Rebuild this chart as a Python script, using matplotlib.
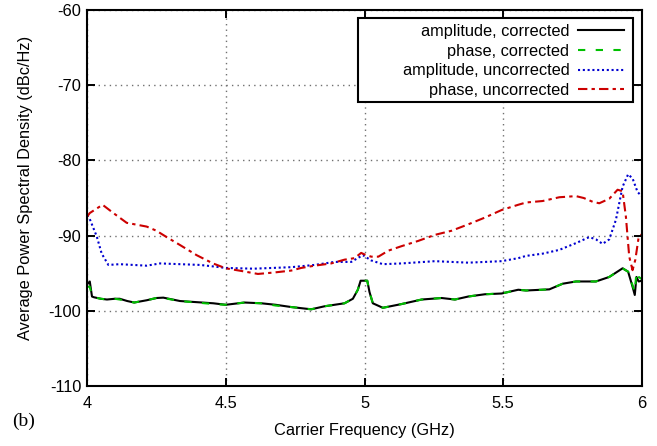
import matplotlib
matplotlib.use('Agg')
import matplotlib.pyplot as plt
from matplotlib.patches import Rectangle

plt.rcParams['font.family'] = ['Liberation Sans', 'DejaVu Sans']
plt.rcParams['axes.unicode_minus'] = False

# amplitude, corrected (black)
f_amp_corr = [4.0, 4.01, 4.018, 4.025, 4.05, 4.072, 4.1, 4.118, 4.145, 4.17, 4.215, 4.25, 4.275,
              4.335, 4.395, 4.455, 4.50, 4.568, 4.628, 4.68, 4.736, 4.808, 4.856, 4.928, 4.958,
              4.976, 4.986, 5.01, 5.018, 5.03, 5.066, 5.134, 5.206, 5.278, 5.326, 5.374, 5.434,
              5.494, 5.554, 5.582, 5.666, 5.714, 5.762, 5.834, 5.882, 5.93, 5.95, 5.966, 5.974,
              5.98, 5.988, 6.0]
amp_corr = [-96.5, -96.1, -98.1, -98.2, -98.4, -98.5, -98.4, -98.4, -98.7, -98.9, -98.6, -98.3,
            -98.25, -98.7, -98.85, -99.0, -99.2, -98.9, -99.0, -99.2, -99.5, -99.8, -99.4, -99.0,
            -98.4, -97.2, -96.0, -96.0, -97.5, -99.0, -99.6, -99.1, -98.5, -98.3, -98.5, -98.1,
            -97.8, -97.7, -97.2, -97.3, -97.15, -96.4, -96.1, -96.1, -95.5, -94.35, -94.8, -96.8,
            -97.9, -95.5, -96.1, -96.0]

# phase, corrected (green)
f_ph_corr = [4.0, 4.01, 4.018, 4.025, 4.05, 4.072, 4.1, 4.118, 4.145, 4.17, 4.215, 4.25, 4.275,
             4.335, 4.395, 4.455, 4.50, 4.568, 4.628, 4.68, 4.736, 4.808, 4.856, 4.928, 4.958,
             4.976, 4.986, 5.01, 5.018, 5.03, 5.066, 5.134, 5.206, 5.278, 5.326, 5.374, 5.434,
             5.494, 5.554, 5.582, 5.666, 5.714, 5.762, 5.834, 5.882, 5.93, 5.95, 5.966, 5.974,
             5.98, 5.988, 6.0]
ph_corr = [-96.8, -96.8, -98.0, -98.2, -98.4, -98.5, -98.4, -98.5, -98.7, -98.9, -98.6, -98.3,
           -98.3, -98.7, -98.9, -99.1, -99.2, -98.9, -99.0, -99.3, -99.5, -99.8, -99.4, -99.0,
           -98.4, -97.2, -96.0, -96.0, -97.5, -99.0, -99.6, -99.1, -98.5, -98.3, -98.5, -98.1,
           -97.8, -97.7, -97.2, -97.3, -97.15, -96.4, -96.1, -96.1, -95.5, -94.35, -94.8, -96.6,
           -97.5, -94.8, -95.5, -95.8]

# amplitude, uncorrected (blue)
f_amp_unc = [4.0, 4.01, 4.035, 4.053, 4.077, 4.118, 4.166, 4.215, 4.263, 4.335, 4.407, 4.455,
             4.50, 4.6, 4.736, 4.82, 4.892, 4.952, 4.994, 5.024, 5.066, 5.134, 5.254, 5.374,
             5.494, 5.554, 5.582, 5.642, 5.702, 5.762, 5.81, 5.834, 5.858, 5.882, 5.906, 5.93,
             5.95, 5.966, 5.984, 6.0]
amp_unc = [-87.3, -87.8, -90.1, -92.4, -93.9, -93.8, -93.9, -94.0, -93.7, -93.8, -93.9, -94.1,
           -94.3, -94.4, -94.2, -93.9, -93.5, -93.5, -92.6, -93.3, -93.8, -93.7, -93.4, -93.6,
           -93.4, -93.0, -92.7, -92.4, -91.9, -91.0, -90.2, -90.5, -91.1, -90.5, -87.9, -83.5,
           -81.85, -82.4, -84.2, -84.8]

# phase, uncorrected (red)
f_ph_unc = [4.0, 4.01, 4.056, 4.095, 4.143, 4.215, 4.25, 4.287, 4.335, 4.395, 4.454, 4.50,
            4.556, 4.616, 4.676, 4.736, 4.772, 4.82, 4.88, 4.928, 4.964, 4.988, 5.0, 5.024, 5.05,
            5.086, 5.134, 5.194, 5.254, 5.314, 5.374, 5.434, 5.494, 5.554, 5.582, 5.642, 5.702,
            5.762, 5.79, 5.822, 5.846, 5.882, 5.912, 5.93, 5.942, 5.954, 5.966, 5.976, 5.988, 6.0]
ph_unc = [-87.5, -87.0, -85.9, -87.0, -88.3, -88.8, -89.35, -90.2, -91.25, -92.6, -93.7, -94.35,
          -94.7, -95.1, -94.9, -94.65, -94.3, -94.0, -93.7, -93.2, -93.0, -92.3, -92.5, -92.8,
          -92.8, -92.0, -91.4, -90.7, -89.9, -89.35, -88.5, -87.6, -86.6, -85.9, -85.6, -85.4,
          -84.9, -84.75, -85.0, -85.5, -85.7, -85.1, -83.9, -84.1, -87.5, -92.8, -94.6, -93.2,
          -90.2, -89.8]

xticks = [4, 4.5, 5, 5.5, 6]
xticklabels = ['4', '4.5', '5', '5.5', '6']
yticks = [-110, -100, -90, -80, -70, -60]

fs = 11.8
fig = plt.figure(figsize=(6.57, 4.46), dpi=100)
ax = fig.add_axes([87/657, 1 - 386/446, 555/657, 376/446])

lw = 1.5
ax.plot(f_amp_corr, amp_corr, color='black', lw=lw, ls='-', label='amplitude, corrected')
ax.plot(f_ph_corr, ph_corr, color='#00c000', lw=lw, ls=(0, (3.5, 5)), label='phase, corrected')
ax.plot(f_amp_unc, amp_unc, color='#0000d0', lw=lw, ls=(0, (1, 1.3)), label='amplitude, uncorrected')
ax.plot(f_ph_unc, ph_unc, color='#cc0000', lw=lw, ls=(0, (4.5, 2, 1.6, 2)), label='phase, uncorrected')

ax.set_xlim(4, 6)
ax.set_ylim(-110, -60)
ax.set_xticks(xticks)
ax.set_xticklabels(xticklabels)
ax.set_yticks(yticks)
ax.tick_params(direction='in', length=5.8, width=1.4, top=True, right=True, labelsize=fs)
ax.tick_params(axis='x', pad=7)
ax.tick_params(axis='y', pad=4)
for s in ax.spines.values():
    s.set_linewidth(1.5)
ax.grid(True, color='#707070', ls=(0, (1, 3)), lw=1)

ax.set_xlabel('Carrier Frequency (GHz)', fontsize=fs)
ax.set_ylabel('Average Power Spectral Density (dBc/Hz)', fontsize=fs)
ax.yaxis.set_label_coords(-0.097, 0.527)
ax.xaxis.set_label_coords(0.5, -0.098)

# gnuplot-style key box, wider than its text
box = Rectangle((0.488, 0.755), 0.496, 0.224, transform=ax.transAxes, facecolor='white',
                edgecolor='black', lw=1.5, zorder=4.5)
ax.add_patch(box)
leg = ax.legend(loc='upper right', bbox_to_anchor=(0.974, 0.972), borderaxespad=0,
                markerfirst=False, fontsize=fs, frameon=False, handlelength=2.85,
                handletextpad=0.5, labelspacing=0.29, borderpad=0.2)
leg.set_zorder(5)
for t in leg.get_texts():
    t.set_ha('right')
leg._legend_box.align = 'right'

fig.text(12/657, 1 - 421/446, '(b)', family=['Liberation Serif', 'DejaVu Serif'],
         fontsize=14, va='center', ha='left')

fig.savefig('out.png', dpi=100)
